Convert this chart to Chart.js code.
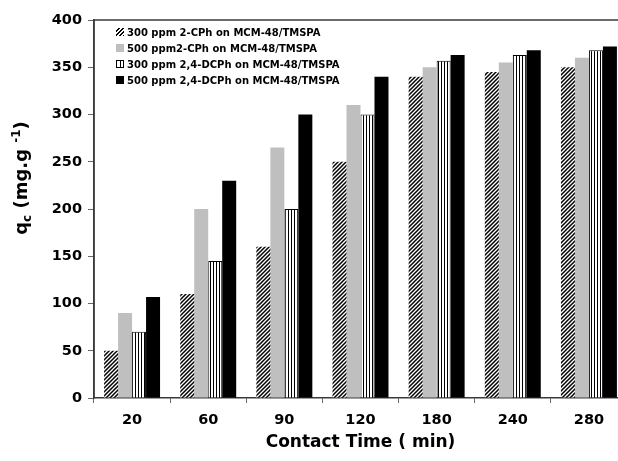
<!DOCTYPE html>
<html>
<head>
<meta charset="utf-8">
<script src="https://cdn.jsdelivr.net/npm/chart.js@4/dist/chart.umd.min.js"></script>
<style>
  html, body { margin: 0; padding: 0; background: #fff; overflow: hidden; }
  #wrap { position: relative; width: 640px; height: 461px; }
  #legend { position: absolute; left: 116px; top: 24px; font: bold 10px 'DejaVu Sans', sans-serif; color: #000; }
  .row { display: flex; align-items: center; height: 16px; white-space: nowrap; }
  .sw { width: 8px; height: 8px; margin-right: 3px; box-sizing: border-box; flex: none; }
</style>
</head>
<body>
<div id="wrap">
  <canvas id="c" width="640" height="461" style="width:640px;height:461px"></canvas>
  <div id="legend"></div>
</div>
<script>
// ---- data ----
const categories = ['20', '60', '90', '120', '180', '240', '280'];
const series300CPh = [50, 110, 160, 250, 340, 345, 350];
const series500CPh = [90, 200, 265, 310, 350, 355, 360];
const series300DCPh = [70, 145, 200, 300, 357, 363, 368];
const series500DCPh = [107, 230, 300, 340, 363, 368, 372];
const seriesLabels = [
  '300 ppm 2-CPh on MCM-48/TMSPA',
  '500 ppm2-CPh on MCM-48/TMSPA',
  '300 ppm 2,4-DCPh on MCM-48/TMSPA',
  '500 ppm 2,4-DCPh on MCM-48/TMSPA'
];
const yTickMin = 0, yTickMax = 400, yTickStep = 50;
const xTitle = 'Contact Time ( min)';

// ---- patterns ----
function hatchPattern() {
  const n = 4, cv = document.createElement('canvas');
  cv.width = n; cv.height = n;
  const g = cv.getContext('2d');
  g.fillStyle = '#fff'; g.fillRect(0, 0, n, n);
  g.strokeStyle = '#000'; g.lineWidth = 1.5;
  g.beginPath();
  g.moveTo(0, n); g.lineTo(n, 0);
  g.moveTo(-1, 1); g.lineTo(1, -1);
  g.moveTo(n - 1, n + 1); g.lineTo(n + 1, n - 1);
  g.stroke();
  return g.createPattern(cv, 'repeat');
}
function stripePattern() {
  const cv = document.createElement('canvas');
  cv.width = 3; cv.height = 4;
  const g = cv.getContext('2d');
  g.fillStyle = '#fff'; g.fillRect(0, 0, 3, 4);
  g.fillStyle = '#000'; g.fillRect(0, 0, 1, 4);
  return g.createPattern(cv, 'repeat');
}

const mainCtx = document.getElementById('c').getContext('2d');

const frame = {
  id: 'frame',
  afterDraw(chart) {
    const { ctx, chartArea: { left, top, right, bottom } } = chart;
    ctx.save();
    ctx.strokeStyle = '#3a3a3a';
    ctx.lineWidth = 1.5;
    ctx.beginPath();
    ctx.moveTo(left, bottom); ctx.lineTo(left, top); ctx.lineTo(right, top); ctx.lineTo(right, bottom);
    ctx.stroke();
    ctx.restore();
  }
};

const yTitle = {
  id: 'yTitle',
  afterDraw(chart) {
    const ctx = chart.ctx;
    const parts = [
      { t: 'q', s: 18, dy: 0 },
      { t: 'c', s: 12, dy: 4 },
      { t: ' (mg.g ', s: 18, dy: 0 },
      { t: '-1', s: 12, dy: -7 },
      { t: ')', s: 18, dy: 0 }
    ];
    ctx.save();
    let total = 0;
    parts.forEach(p => { ctx.font = 'bold ' + p.s + 'px "DejaVu Sans"'; p.w = ctx.measureText(p.t).width; total += p.w; });
    ctx.translate(22, 178);
    ctx.rotate(-Math.PI / 2);
    ctx.fillStyle = '#000';
    ctx.textBaseline = 'middle';
    let x = -total / 2;
    parts.forEach(p => {
      ctx.font = 'bold ' + p.s + 'px "DejaVu Sans"';
      ctx.fillText(p.t, x, p.dy + (p.s < 18 ? 2 : 0));
      x += p.w;
    });
    ctx.restore();
  }
};

const tickFont = { family: 'DejaVu Sans', size: 14.5, weight: 'bold' };

new Chart(mainCtx, {
  type: 'bar',
  data: {
    labels: categories,
    datasets: [
      { label: seriesLabels[0], data: series300CPh, backgroundColor: hatchPattern(), borderWidth: 0 },
      { label: seriesLabels[1], data: series500CPh, backgroundColor: '#bfbfbf', borderWidth: 0 },
      { label: seriesLabels[2], data: series300DCPh, backgroundColor: stripePattern(), borderColor: '#000', borderWidth: 1 },
      { label: seriesLabels[3], data: series500DCPh, backgroundColor: '#000', borderWidth: 0 }
    ]
  },
  options: {
    responsive: false,
    animation: false,
    devicePixelRatio: 1,
    layout: { padding: { top: 20, right: 13, left: 0, bottom: 0 } },
    datasets: { bar: { categoryPercentage: 0.735, barPercentage: 1 } },
    plugins: { legend: { display: false }, tooltip: { enabled: false } },
    scales: {
      x: {
        grid: { display: true, drawOnChartArea: false, drawTicks: true, tickLength: 5, color: '#666', offset: true },
        border: { display: true, color: '#3a3a3a', width: 1.5 },
        ticks: { font: tickFont, color: '#000', padding: 9, maxRotation: 0 },
        title: { display: true, text: xTitle, font: { family: 'DejaVu Sans', size: 17, weight: 'bold' }, color: '#000', padding: { top: 0, bottom: 8 } },
        afterFit(s) { s.height = 63; }
      },
      y: {
        min: yTickMin, max: yTickMax,
        grid: { display: true, drawOnChartArea: false, drawTicks: true, tickLength: 6, color: '#666' },
        border: { display: true, color: '#3a3a3a', width: 1.5 },
        ticks: { stepSize: yTickStep, font: tickFont, color: '#000', padding: 6 },
        afterFit(s) { s.width = 94; }
      }
    }
  },
  plugins: [frame, yTitle]
});

// ---- HTML legend ----
const swatchStyles = [
  'background: repeating-linear-gradient(-45deg, #000 0 1.2px, #fff 1.2px 2.8px);',
  'background: #bfbfbf;',
  'background: linear-gradient(to right, #fff 0 3px, #000 3px 4px, #fff 4px); border: 1px solid #000;',
  'background: #000;'
];
const leg = document.getElementById('legend');
seriesLabels.forEach((lab, i) => {
  const row = document.createElement('div');
  row.className = 'row';
  const sw = document.createElement('span');
  sw.className = 'sw';
  sw.style.cssText = swatchStyles[i];
  const tx = document.createElement('span');
  tx.textContent = lab;
  row.appendChild(sw); row.appendChild(tx);
  leg.appendChild(row);
});
</script>
</body>
</html>
